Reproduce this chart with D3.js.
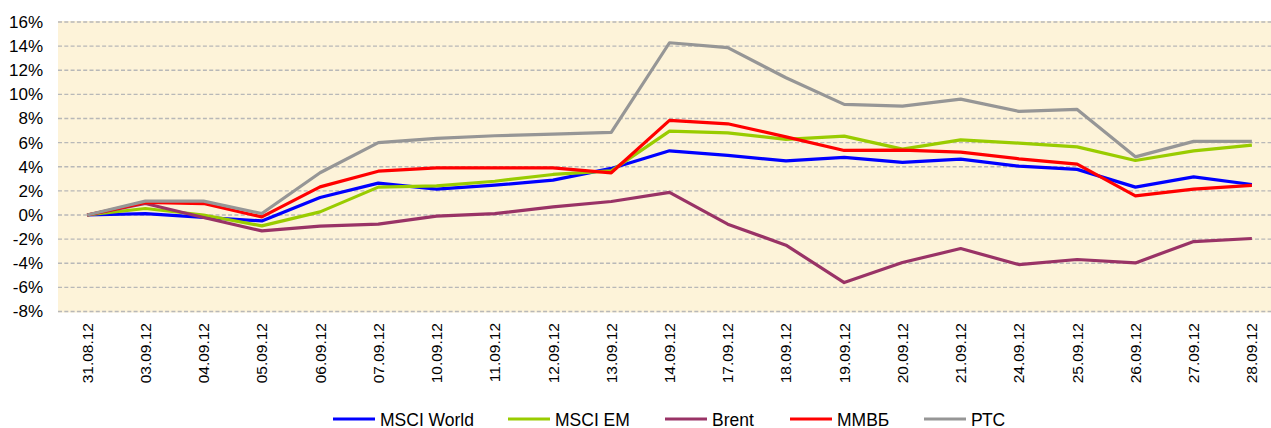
<!DOCTYPE html>
<html lang="ru">
<head>
  <meta charset="utf-8" />
  <title>Indices</title>
  <script src="https://cdn.jsdelivr.net/npm/d3@7"></script>
  <style>
    body { margin: 0; background: #fff; }
    text { font-family: "Liberation Sans", Arial, sans-serif; fill: #000; }
  </style>
</head>
<body>
<script>

// data
var dates = ["31.08.12", "03.09.12", "04.09.12", "05.09.12", "06.09.12", "07.09.12", "10.09.12",
             "11.09.12", "12.09.12", "13.09.12", "14.09.12", "17.09.12", "18.09.12", "19.09.12",
             "20.09.12", "21.09.12", "24.09.12", "25.09.12", "26.09.12", "27.09.12", "28.09.12"];
var msciWorld = [0, 0.12, -0.2, -0.49, 1.45, 2.64, 2.14, 2.47, 2.89, 3.86, 5.32, 4.94, 4.49, 4.77, 4.36, 4.63, 4.05, 3.78, 2.31, 3.16, 2.53];
var msciEM    = [0, 0.54, 0, -0.9, 0.26, 2.31, 2.41, 2.8, 3.36, 3.66, 6.95, 6.81, 6.27, 6.54, 5.46, 6.23, 5.96, 5.65, 4.52, 5.32, 5.79];
var brent     = [0, 0.95, -0.21, -1.32, -0.93, -0.76, -0.1, 0.12, 0.67, 1.12, 1.87, -0.76, -2.5, -5.6, -3.94, -2.78, -4.11, -3.69, -3.97, -2.2, -1.95];
var micex     = [0, 1.04, 0.95, -0.16, 2.33, 3.63, 3.9, 3.9, 3.9, 3.5, 7.84, 7.56, 6.48, 5.35, 5.38, 5.21, 4.66, 4.22, 1.59, 2.14, 2.45];
var rts       = [0, 1.15, 1.15, 0.12, 3.5, 6.0, 6.35, 6.57, 6.7, 6.85, 14.28, 13.87, 11.38, 9.17, 9.03, 9.61, 8.59, 8.75, 4.82, 6.1, 6.1];
var yTicks = [-8, -6, -4, -2, 0, 2, 4, 6, 8, 10, 12, 14, 16];

var series = [
  {name: "MSCI World", values: msciWorld, color: "#0000ff"},
  {name: "MSCI EM",    values: msciEM,    color: "#99cc00"},
  {name: "Brent",      values: brent,     color: "#993366"},
  {name: "ММВБ",       values: micex,     color: "#ff0000"},
  {name: "РТС",        values: rts,       color: "#969696"}
];

var w = 1271;
var h = 428;
var plot = {left: 58, right: 1281, top: 22, bottom: 311.5};

var svg = d3.select("body")
            .append("svg")
            .attr("width", w)
            .attr("height", h);

var xScale = d3.scalePoint()
               .domain(dates)
               .range([plot.left, plot.right])
               .padding(0.5);
var yScale = d3.scaleLinear()
               .domain([-8, 16])
               .range([plot.bottom, plot.top]);

// plot background
svg.append("rect")
   .attr("x", plot.left)
   .attr("y", plot.top - 1)
   .attr("width", plot.right - plot.left)
   .attr("height", plot.bottom - plot.top + 2)
   .attr("fill", "#fdf3d9");

// grid lines
svg.selectAll("line.grid")
   .data(yTicks)
   .enter()
   .append("line")
   .attr("class", "grid")
   .attr("x1", plot.left)
   .attr("x2", plot.right)
   .attr("y1", function(d) { return yScale(d); })
   .attr("y2", function(d) { return yScale(d); })
   .attr("stroke", "#b8b8b8")
   .attr("stroke-width", 1.3)
   .attr("stroke-dasharray", "4,2.3");

// y axis labels
var yAxis = d3.axisLeft(yScale)
              .tickValues(yTicks)
              .tickSize(0)
              .tickPadding(15)
              .tickFormat(function(d) { return d + "%"; });
var gy = svg.append("g")
            .attr("transform", "translate(" + plot.left + ",0)")
            .call(yAxis);
gy.select(".domain").remove();
gy.selectAll("text")
  .attr("font-size", "17px")
  .attr("font-family", "Liberation Sans, Arial, sans-serif")
  .attr("fill", "#000");

// x axis labels (rotated)
svg.selectAll("text.xlab")
   .data(dates)
   .enter()
   .append("text")
   .attr("class", "xlab")
   .attr("text-anchor", "end")
   .attr("font-size", "15.5px")
   .attr("transform", function(d) {
     return "translate(" + (xScale(d) + 5.5) + ",323) rotate(-90)";
   })
   .text(function(d) { return d; });

// lines
var line = d3.line()
             .x(function(d, i) { return xScale(dates[i]); })
             .y(function(d) { return yScale(d); });

svg.selectAll("path.series")
   .data(series)
   .enter()
   .append("path")
   .attr("class", "series")
   .attr("fill", "none")
   .attr("stroke", function(d) { return d.color; })
   .attr("stroke-width", 3.2)
   .attr("stroke-linejoin", "round")
   .attr("d", function(d) { return line(d.values); });

// legend
var legendX = [333, 508, 665, 790, 924];
var legend = svg.selectAll("g.legend")
                .data(series)
                .enter()
                .append("g")
                .attr("class", "legend")
                .attr("transform", function(d, i) { return "translate(" + legendX[i] + ",419)"; });
legend.append("line")
      .attr("x1", 0)
      .attr("x2", 42)
      .attr("stroke", function(d) { return d.color; })
      .attr("stroke-width", 3.2);
legend.append("text")
      .attr("x", 47)
      .attr("y", 6.5)
      .attr("font-size", "17.5px")
      .text(function(d) { return d.name; });

</script>
</body>
</html>
